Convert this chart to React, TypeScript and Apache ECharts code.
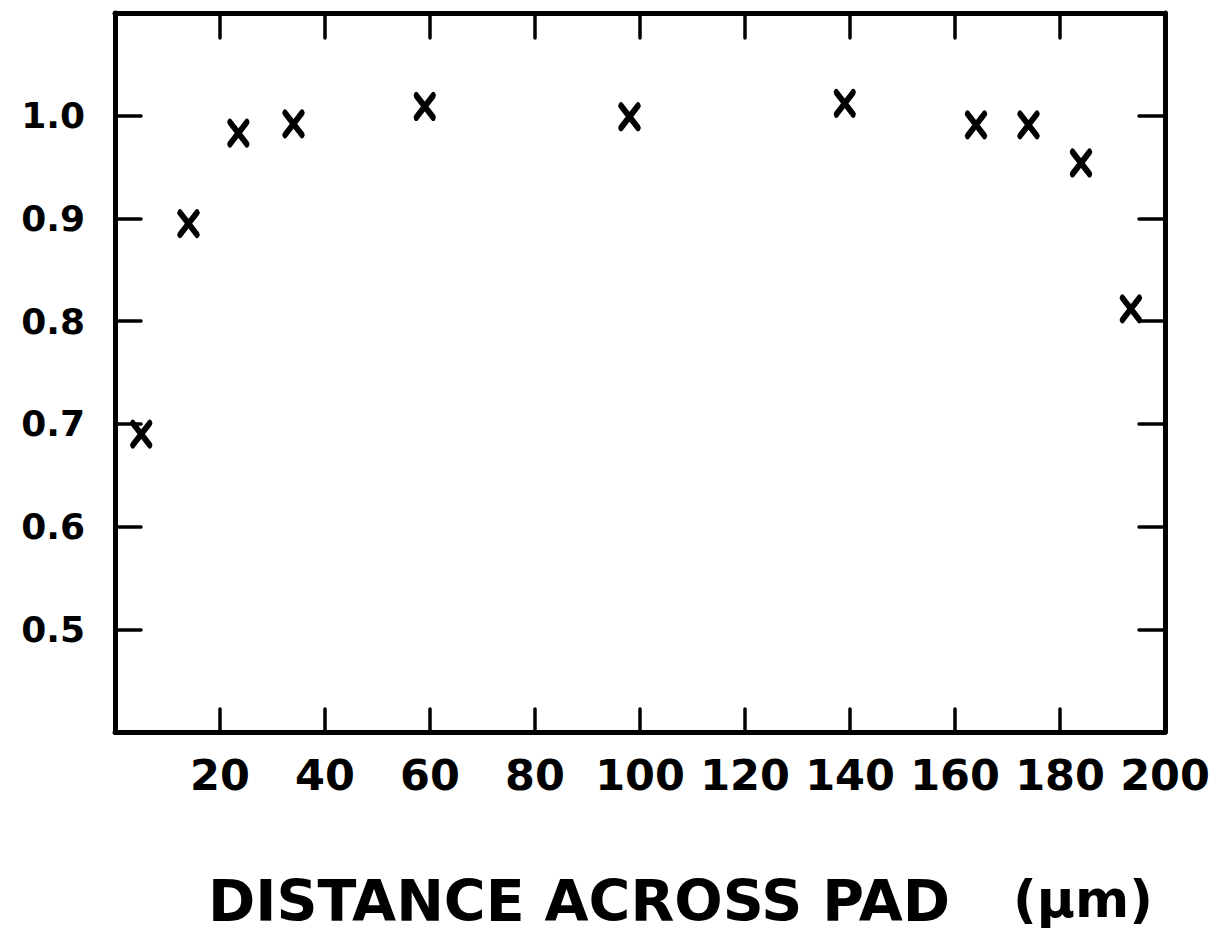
import React, { useEffect, useRef } from "react";
import * as echarts from "echarts";

const xTicks = [0, 20, 40, 60, 80, 100, 120, 140, 160, 180, 200];
const yTicks = [0.4, 0.5, 0.6, 0.7, 0.8, 0.9, 1.0, 1.1];
const distance = [5, 14, 23.5, 34, 59, 98, 139, 164, 174, 184, 193.5];
const ratio = [0.69, 0.895, 0.983, 0.992, 1.009, 0.999, 1.012, 0.991, 0.991, 0.954, 0.812];
const xTitle = "DISTANCE ACROSS PAD";
const xUnit = "(μm)";

const FONT = "DejaVu Sans";

export default function App() {
  const ref = useRef<HTMLDivElement>(null);
  useEffect(() => {
    if (!ref.current) return;
    const chart = echarts.init(ref.current, null, { renderer: "svg" });
    const lineStyle = { color: "#000", width: 5, cap: "round" as const };
    const tickStyle = { color: "#000", width: 3.5, cap: "round" as const };
    const xCommon = {
      type: "value" as const,
      min: xTicks[0],
      max: xTicks[xTicks.length - 1],
      interval: xTicks[1] - xTicks[0],
      splitLine: { show: false },
      axisLine: { show: true, onZero: false, lineStyle },
    };
    const yCommon = {
      type: "value" as const,
      min: yTicks[0],
      max: yTicks[yTicks.length - 1],
      interval: 0.1,
      splitLine: { show: false },
      axisLine: { show: true, onZero: false, lineStyle },
    };
    chart.setOption({
      animation: false,
      backgroundColor: "#fff",
      title: [
        {
          text: xTitle,
          left: 203,
          top: 866,
          textStyle: { fontFamily: FONT, fontWeight: "bold", fontSize: 57, lineHeight: 60, color: "#000" },
        },
        {
          text: xUnit,
          left: 1008,
          top: 864,
          textStyle: { fontFamily: FONT, fontWeight: "bold", fontSize: 52, lineHeight: 60, color: "#000" },
        },
      ],
      grid: { left: 115, right: 48, top: 13, bottom: 203, containLabel: false },
      xAxis: [
        {
          ...xCommon,
          position: "bottom",
          axisTick: { show: true, inside: true, length: 23, lineStyle: tickStyle },
          axisLabel: {
            show: true,
            showMinLabel: false,
            margin: 21,
            fontFamily: FONT,
            fontWeight: "bold",
            fontSize: 43,
            color: "#000",
            formatter: (v: number) => String(v),
          },
        },
        {
          ...xCommon,
          position: "top",
          axisTick: { show: true, inside: true, length: 25, lineStyle: tickStyle },
          axisLabel: { show: false },
        },
      ],
      yAxis: [
        {
          ...yCommon,
          position: "left",
          axisTick: { show: true, inside: true, length: 26, lineStyle: tickStyle },
          axisLabel: {
            show: true,
            showMinLabel: false,
            showMaxLabel: false,
            margin: 30,
            fontFamily: FONT,
            fontWeight: "bold",
            fontSize: 36,
            color: "#000",
            formatter: (v: number) => v.toFixed(1),
          },
        },
        {
          ...yCommon,
          position: "right",
          axisTick: { show: true, inside: true, length: 26, lineStyle: tickStyle },
          axisLabel: { show: false },
        },
      ],
      series: [
        {
          type: "scatter",
          data: distance.map((d, i) => [d, ratio[i]]),
          symbol: "path://M0,0L20,27M20,0L0,27",
          symbolSize: [17, 22],
          itemStyle: {
            color: "transparent",
            borderColor: "#000",
            borderWidth: 6,
            borderCap: "round",
            opacity: 1,
          },
        },
      ],
    });
    return () => chart.dispose();
  }, []);
  return (
    <div
      ref={ref}
      style={{ position: "absolute", left: 0, top: 0, width: 1213, height: 935, background: "#fff" }}
    />
  );
}
